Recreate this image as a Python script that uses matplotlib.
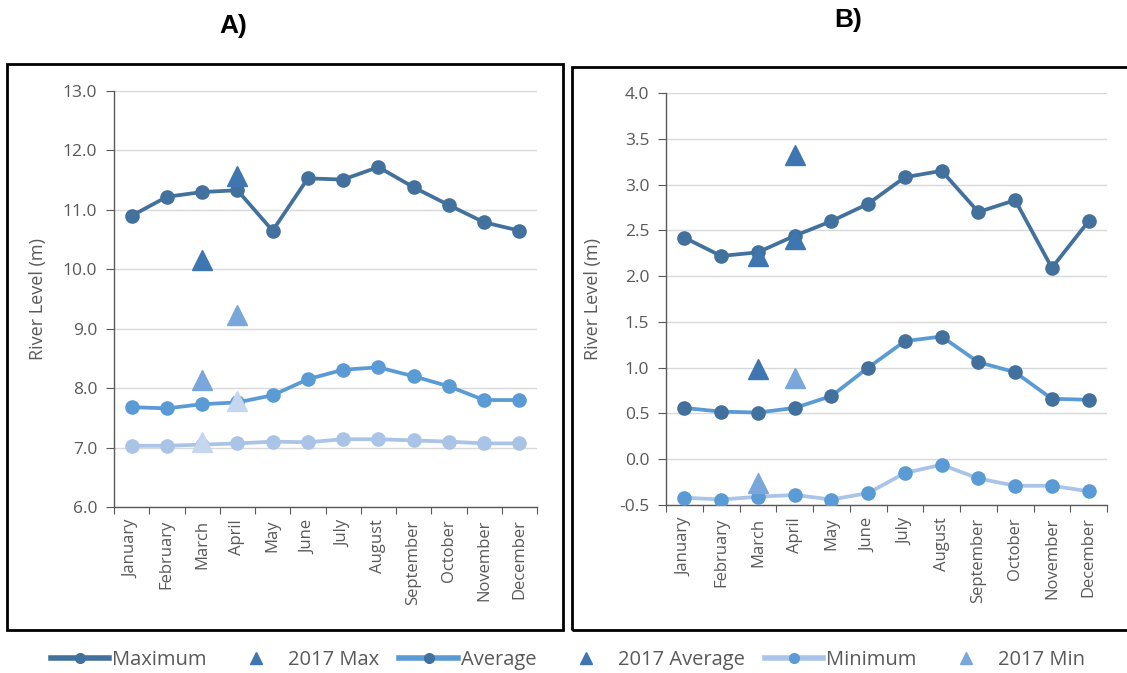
import matplotlib.pyplot as plt
from matplotlib.lines import Line2D
from matplotlib.patches import Rectangle
import numpy as np

plt.rcParams['font.family'] = ['Open Sans', 'DejaVu Sans']

months = ["January", "February", "March", "April", "May", "June", "July",
          "August", "September", "October", "November", "December"]

# Panel A
a_max = [10.90, 11.22, 11.30, 11.33, 10.65, 11.53, 11.51, 11.72, 11.38, 11.08, 10.79, 10.65]
a_avg = [7.68, 7.66, 7.73, 7.76, 7.88, 8.15, 8.31, 8.35, 8.20, 8.03, 7.80, 7.80]
a_min = [7.03, 7.03, 7.05, 7.07, 7.10, 7.09, 7.14, 7.14, 7.12, 7.10, 7.07, 7.07]
a_2017_max = [10.16, 11.57]
a_2017_avg = [8.13, 9.23]
a_2017_min = [7.10, 7.78]

# Panel B
b_max = [2.42, 2.22, 2.26, 2.44, 2.60, 2.79, 3.08, 3.15, 2.70, 2.83, 2.09, 2.60]
b_avg = [0.56, 0.52, 0.51, 0.56, 0.69, 1.00, 1.29, 1.34, 1.06, 0.95, 0.66, 0.65]
b_min = [-0.42, -0.44, -0.41, -0.39, -0.44, -0.37, -0.15, -0.06, -0.21, -0.29, -0.29, -0.35]
b_2017_max = [2.22, 3.32]
b_2017_avg = [0.99, 2.41]
b_2017_min = [-0.26, 0.89]

tri_months = ["March", "April"]

DARK = "#41719c"
MED = "#5b9bd5"
LIGHT = "#a9c4e6"
TRI_DARK = "#3f76b0"
TRI_MED = "#7aa7da"
TRI_LIGHT = "#c5d6ee"
GRAY = "#595959"

fig = plt.figure(figsize=(11.27, 6.73), dpi=100)

# outer boxes around each panel
fig.patches.append(Rectangle((7 / 1127, 1 - 630 / 673), 556 / 1127, 566 / 673,
                             transform=fig.transFigure, fill=False, lw=2, ec="black"))
fig.patches.append(Rectangle((572 / 1127, 1 - 630 / 673), 560 / 1127, 563 / 673,
                             transform=fig.transFigure, fill=False, lw=2, ec="black"))

ax_a = fig.add_axes([114 / 1127, 1 - 507 / 673, 423 / 1127, 416 / 673])
ax_b = fig.add_axes([666 / 1127, 1 - 505 / 673, 441 / 1127, 412 / 673])

x = np.arange(len(months))
tx = [months.index(m) for m in tri_months]


def style_axis(ax, ylim, yticks):
    ax.set_xlim(-0.5, len(months) - 0.5)
    ax.set_ylim(*ylim)
    ax.set_yticks(yticks)
    ax.set_yticklabels([f"{v:.1f}" for v in yticks], color=GRAY, fontsize=12.5)
    ax.set_xticks(np.arange(-0.5, len(months)), minor=False)
    ax.set_xticklabels([])
    ax.set_xticks(x, minor=True)
    ax.set_xticklabels(months, minor=True, rotation=90, color=GRAY, fontsize=12)
    ax.tick_params(axis="x", which="major", length=5, color=GRAY, direction="out")
    ax.tick_params(axis="x", which="minor", length=0, pad=9)
    ax.tick_params(axis="y", length=6, color=GRAY, direction="out", pad=6)
    for s in ["top", "right"]:
        ax.spines[s].set_visible(False)
    for s in ["left", "bottom"]:
        ax.spines[s].set_color(GRAY)
        ax.spines[s].set_linewidth(1)
    ax.grid(axis="y", color="#d9d9d9", lw=1)
    ax.set_axisbelow(True)
    ax.set_ylabel("River Level (m)", color=GRAY, fontsize=13)


# Panel A
style_axis(ax_a, (6.0, 13.0), np.arange(6.0, 13.01, 1.0))
ax_a.plot(x, a_max, color=DARK, lw=2.7, marker="o", ms=9.5, mfc=DARK, mec=DARK, zorder=3)
ax_a.plot(x, a_avg, color=MED, lw=2.7, marker="o", ms=9.5, mfc=MED, mec=MED, zorder=3)
ax_a.plot(x, a_min, color=LIGHT, lw=2.7, marker="o", ms=9.5, mfc=LIGHT, mec=LIGHT, zorder=3)
ax_a.plot(tx, a_2017_max, ls="none", marker="^", ms=14, color=TRI_DARK, zorder=4)
ax_a.plot(tx, a_2017_avg, ls="none", marker="^", ms=14, color=TRI_MED, zorder=4)
ax_a.plot(tx, a_2017_min, ls="none", marker="^", ms=14, color=TRI_LIGHT, zorder=4)

# Panel B
style_axis(ax_b, (-0.5, 4.0), np.arange(-0.5, 4.01, 0.5))
ax_b.plot(x, b_max, color=DARK, lw=2.7, marker="o", ms=9.5, mfc=DARK, mec=DARK, zorder=3)
ax_b.plot(x, b_avg, color=MED, lw=2.7, marker="o", ms=9.5, mfc=DARK, mec=DARK, zorder=3)
ax_b.plot(x, b_min, color=LIGHT, lw=2.7, marker="o", ms=9.5, mfc=MED, mec=MED, zorder=3)
ax_b.plot(tx, b_2017_max, ls="none", marker="^", ms=14, color=TRI_DARK, zorder=4)
ax_b.plot(tx, b_2017_avg, ls="none", marker="^", ms=14, color=TRI_DARK, zorder=4)
ax_b.plot(tx, b_2017_min, ls="none", marker="^", ms=14, color=TRI_MED, zorder=4)

ax_a.yaxis.set_label_coords(-0.158, 0.5)
ax_b.yaxis.set_label_coords(-0.145, 0.5)

# panel titles
fig.text(233 / 1127, 1 - 26 / 673, "A)", fontsize=19, fontweight="bold",
         family="Liberation Sans", ha="center", va="center")
fig.text(848 / 1127, 1 - 20 / 673, "B)", fontsize=19, fontweight="bold",
         family="Liberation Sans", ha="center", va="center")

# legend
handles = [
    Line2D([], [], color=DARK, lw=4, marker="o", ms=7, mfc=DARK, mec=DARK),
    Line2D([], [], ls="none", marker="^", ms=9, color=TRI_DARK),
    Line2D([], [], color=MED, lw=4, marker="o", ms=7, mfc=DARK, mec=DARK),
    Line2D([], [], ls="none", marker="^", ms=9, color=TRI_DARK),
    Line2D([], [], color=LIGHT, lw=4, marker="o", ms=7, mfc=MED, mec=MED),
    Line2D([], [], ls="none", marker="^", ms=9, color=TRI_MED),
]
labels = ["Maximum", "2017 Max", "Average", "2017 Average", "Minimum", "2017 Min"]
leg = fig.legend(handles, labels, loc="center", bbox_to_anchor=(568 / 1127, 1 - 660 / 673),
                 ncol=6, frameon=False, fontsize=14.5, handlelength=2.9, handletextpad=0.15,
                 columnspacing=1.0)
for t in leg.get_texts():
    t.set_color(GRAY)

fig.savefig("out.png", dpi=100)
